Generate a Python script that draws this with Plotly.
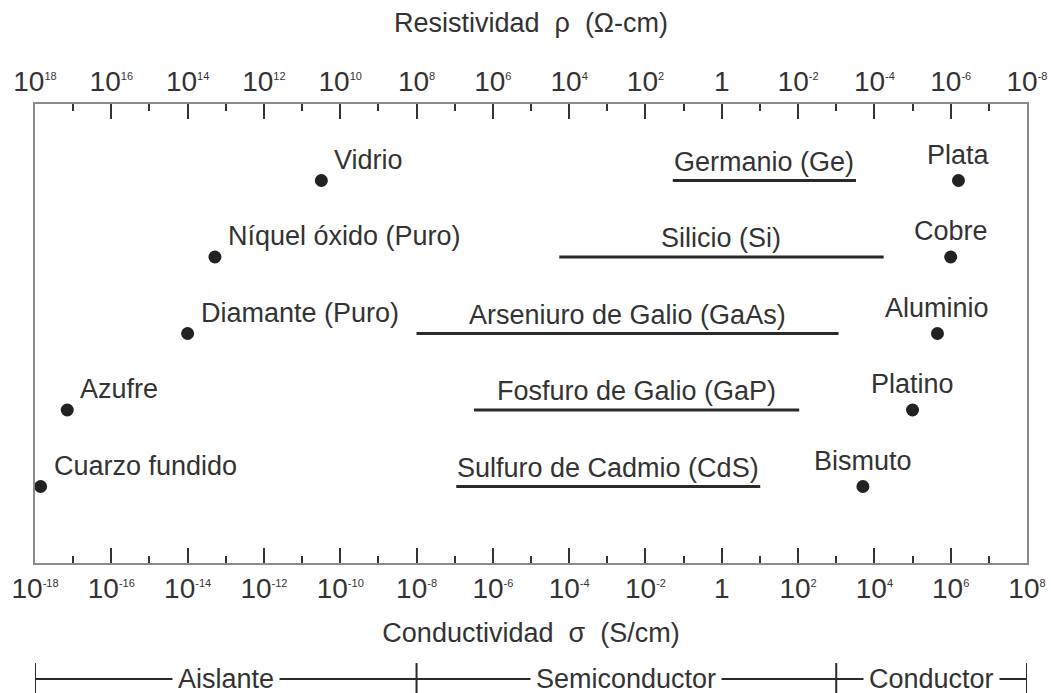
import math
import plotly.graph_objects as go

# Conductividad (S/cm) de materiales puntuales
material_names = ["Vidrio", "Níquel óxido (Puro)", "Diamante (Puro)", "Azufre", "Cuarzo fundido",
                  "Plata", "Cobre", "Aluminio", "Platino", "Bismuto"]
material_sigma = [3.2e-11, 5.2e-14, 1.0e-14, 7.0e-18, 1.4e-18,
                  1.6e6, 1.0e6, 4.5e5, 1.0e5, 5.0e3]

# Intervalos de conductividad (S/cm) de semiconductores
semi_names = ["Germanio (Ge)", "Silicio (Si)", "Arseniuro de Galio (GaAs)",
              "Fosfuro de Galio (GaP)", "Sulfuro de Cadmio (CdS)"]
semi_sigma_low = [5.2e-2, 5.5e-5, 1.0e-8, 3.2e-7, 1.1e-7]
semi_sigma_high = [3.3e3, 1.75e4, 1.15e3, 1.07e2, 1.02e1]

# Clasificacion por conductividad
class_names = ["Aislante", "Semiconductor", "Conductor"]
class_bounds = [1e-18, 1e-8, 1e3, 1e8]

# Exponentes de las marcas del eje
major_exp = list(range(-18, 9, 2))
minor_exp = list(range(-17, 8, 2))

FONT = "Liberation Sans, Arial, Helvetica, sans-serif"
TXT = "#333333"
INK = "#2a2a2a"
FRAME = "#8a8a8a"
NROWS = 5


def pow_label(k):
    if k == 0:
        return "1"
    return "10<sup><span style='font-size:11px'>%d</span></sup>" % k


fig = go.Figure()

# filas: cada material puntual comparte fila con un semiconductor
rows = [NROWS - (i % NROWS) for i in range(len(material_names))]
semi_rows = [NROWS - i for i in range(len(semi_names))]

for name, lo, hi, r in zip(semi_names, semi_sigma_low, semi_sigma_high, semi_rows):
    fig.add_trace(go.Scatter(x=[lo, hi], y=[r, r], mode="lines",
                             line=dict(color=INK, width=3), hoverinfo="skip",
                             showlegend=False, name=name))

fig.add_trace(go.Scatter(x=material_sigma, y=rows, mode="markers",
                         marker=dict(color="#222222", size=13),
                         text=material_names, hoverinfo="text",
                         showlegend=False, cliponaxis=False))

# traza invisible para el eje superior de resistividad
fig.add_trace(go.Scatter(x=[class_bounds[0], class_bounds[-1]], y=[0, 0], xaxis="x2",
                         mode="markers", marker=dict(opacity=0), hoverinfo="skip",
                         showlegend=False))

annotations = []
for name, s, r in zip(material_names, material_sigma, rows):
    lx = math.log10(s)
    if s < 1:
        annotations.append(dict(x=lx, y=r, xref="x", yref="y", text=name,
                                showarrow=False, xanchor="left", yanchor="bottom",
                                xshift=11, yshift=4,
                                font=dict(family=FONT, size=27, color=TXT)))
    else:
        annotations.append(dict(x=lx, y=r, xref="x", yref="y", text=name,
                                showarrow=False, xanchor="center", yanchor="bottom",
                                yshift=9,
                                font=dict(family=FONT, size=27, color=TXT)))

for name, lo, hi, r in zip(semi_names, semi_sigma_low, semi_sigma_high, semi_rows):
    mid = (math.log10(lo) + math.log10(hi)) / 2
    annotations.append(dict(x=mid, y=r, xref="x", yref="y", text=name,
                            showarrow=False, xanchor="center", yanchor="bottom",
                            yshift=2,
                            font=dict(family=FONT, size=27, color=TXT)))

# escala de clasificacion bajo el grafico
BR_Y = -0.2527
shapes = []
shapes.append(dict(type="line", xref="x", yref="paper",
                   x0=class_bounds[0], x1=class_bounds[-1],
                   y0=BR_Y, y1=BR_Y, line=dict(color=INK, width=2)))
for b in class_bounds:
    shapes.append(dict(type="line", xref="x", yref="paper", x0=b, x1=b,
                       y0=-0.218, y1=-0.29, line=dict(color=INK, width=2)))
for name, a, b in zip(class_names, class_bounds[:-1], class_bounds[1:]):
    mid = (math.log10(a) + math.log10(b)) / 2
    annotations.append(dict(x=mid, y=BR_Y, xref="x", yref="paper", text=name,
                            showarrow=False, xanchor="center", yanchor="middle",
                            bgcolor="white", borderpad=5,
                            font=dict(family=FONT, size=27, color=TXT)))

tick_common = dict(
    type="log", range=[-18, 8], automargin=False,
    tickvals=[10.0 ** k for k in major_exp],
    ticks="inside", ticklen=15, tickwidth=1.5, tickcolor="#333333",
    minor=dict(tickvals=[10.0 ** k for k in minor_exp], ticks="inside",
               ticklen=7, tickwidth=1.5, tickcolor="#333333", showgrid=False),
    showgrid=False, zeroline=False,
    tickfont=dict(family=FONT, size=28, color=TXT),
)

fig.update_layout(
    width=1051, height=693,
    margin=dict(l=35, r=24, t=104, b=130, autoexpand=False),
    paper_bgcolor="white", plot_bgcolor="white",
    font=dict(family=FONT, color=TXT),
    xaxis=dict(**tick_common,
               ticktext=[pow_label(k) for k in major_exp],
               showline=True, linecolor=FRAME, linewidth=1.5, mirror=True,
               title=dict(text="Conductividad\u00a0 σ \u00a0(S/cm)",
                          font=dict(family=FONT, size=27, color=TXT), standoff=20)),
    xaxis2=dict(**tick_common, overlaying="x", side="top",
                ticktext=[pow_label(-k) for k in major_exp],
                ticklabelstandoff=6,
                showline=False,
                title=dict(text="Resistividad\u00a0 ρ \u00a0(Ω-cm)",
                           font=dict(family=FONT, size=27, color=TXT), standoff=25)),
    yaxis=dict(range=[0, NROWS + 1], showline=True, linecolor=FRAME, linewidth=1.5,
               mirror=True, showticklabels=False, ticks="", showgrid=False,
               zeroline=False, automargin=False),
    annotations=annotations,
    shapes=shapes,
    showlegend=False,
)

fig.write_html("out.html")
